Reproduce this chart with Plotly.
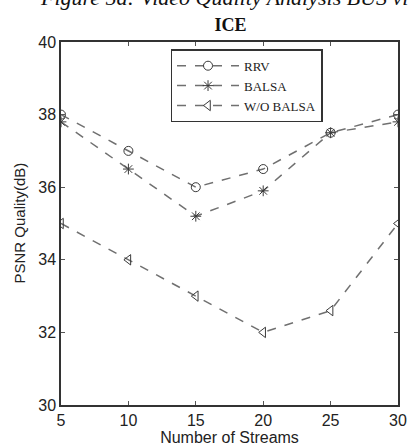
import plotly.graph_objects as go

streams = [5, 10, 15, 20, 25, 30]
rrv = [38.0, 37.0, 36.0, 36.5, 37.5, 38.0]
balsa = [37.8, 36.5, 35.2, 35.9, 37.5, 37.8]
wo_balsa = [35.0, 34.0, 33.0, 32.0, 32.6, 35.0]

series = [
    ("RRV", rrv, "circle-open"),
    ("BALSA", balsa, "asterisk-open"),
    ("W/O BALSA", wo_balsa, "triangle-left-open"),
]

fig = go.Figure()
for name, vals, sym in series:
    fig.add_trace(go.Scatter(
        x=streams, y=vals, name=name, mode="lines+markers",
        line=dict(color="#707070", width=1.5, dash="dash"),
        marker=dict(symbol=sym, size=9, color="#3a3a3a",
                    line=dict(color="#3a3a3a", width=1)),
    ))

axis_common = dict(
    showline=True, linecolor="#333333", linewidth=1.5, mirror="ticks",
    ticks="inside", ticklen=4, tickcolor="#555555", showgrid=False,
    zeroline=False, automargin=False,
    tickfont=dict(family="Liberation Sans, Arial", size=16, color="#222222"),
)

fig.update_layout(
    width=408, height=446,
    margin=dict(l=61, r=10, t=42, b=41),
    paper_bgcolor="white", plot_bgcolor="white",
    title=dict(text="<b>ICE</b>", x=0.565, xanchor="center", y=0.944, yanchor="middle",
               font=dict(family="Liberation Serif, Times New Roman", size=18, color="#111111")),
    xaxis=dict(range=[5, 30], tickvals=streams, ticktext=[str(s) for s in streams],
               title=dict(text="Number of Streams",
                          font=dict(family="Liberation Sans, Arial", size=16, color="#222222")),
               **axis_common),
    yaxis=dict(range=[30, 40], tickvals=[30, 32, 34, 36, 38, 40], **axis_common),
    legend=dict(x=0.325, y=0.98, xanchor="left", yanchor="top",
                bordercolor="#333333", borderwidth=1.5, bgcolor="white",
                font=dict(family="Liberation Serif, Times New Roman", size=13, color="#222222"),
                tracegroupgap=0, itemwidth=62),
    showlegend=True,
)

fig.add_annotation(
    text="PSNR Quality(dB)", xref="paper", yref="paper", x=0, y=0.5,
    xshift=-42, textangle=-90, xanchor="center", yanchor="middle", showarrow=False,
    font=dict(family="Liberation Sans, Arial", size=15, color="#222222"),
)

fig.add_annotation(
    text="<i>Figure 5a: Video Quality Analysis BUS via</i>", xref="paper", yref="paper",
    x=0.5, y=1.0, yshift=45, xanchor="center", yanchor="middle", showarrow=False,
    font=dict(family="Liberation Serif, Times New Roman", size=22, color="#111111"),
)

fig.write_html("out.html")
